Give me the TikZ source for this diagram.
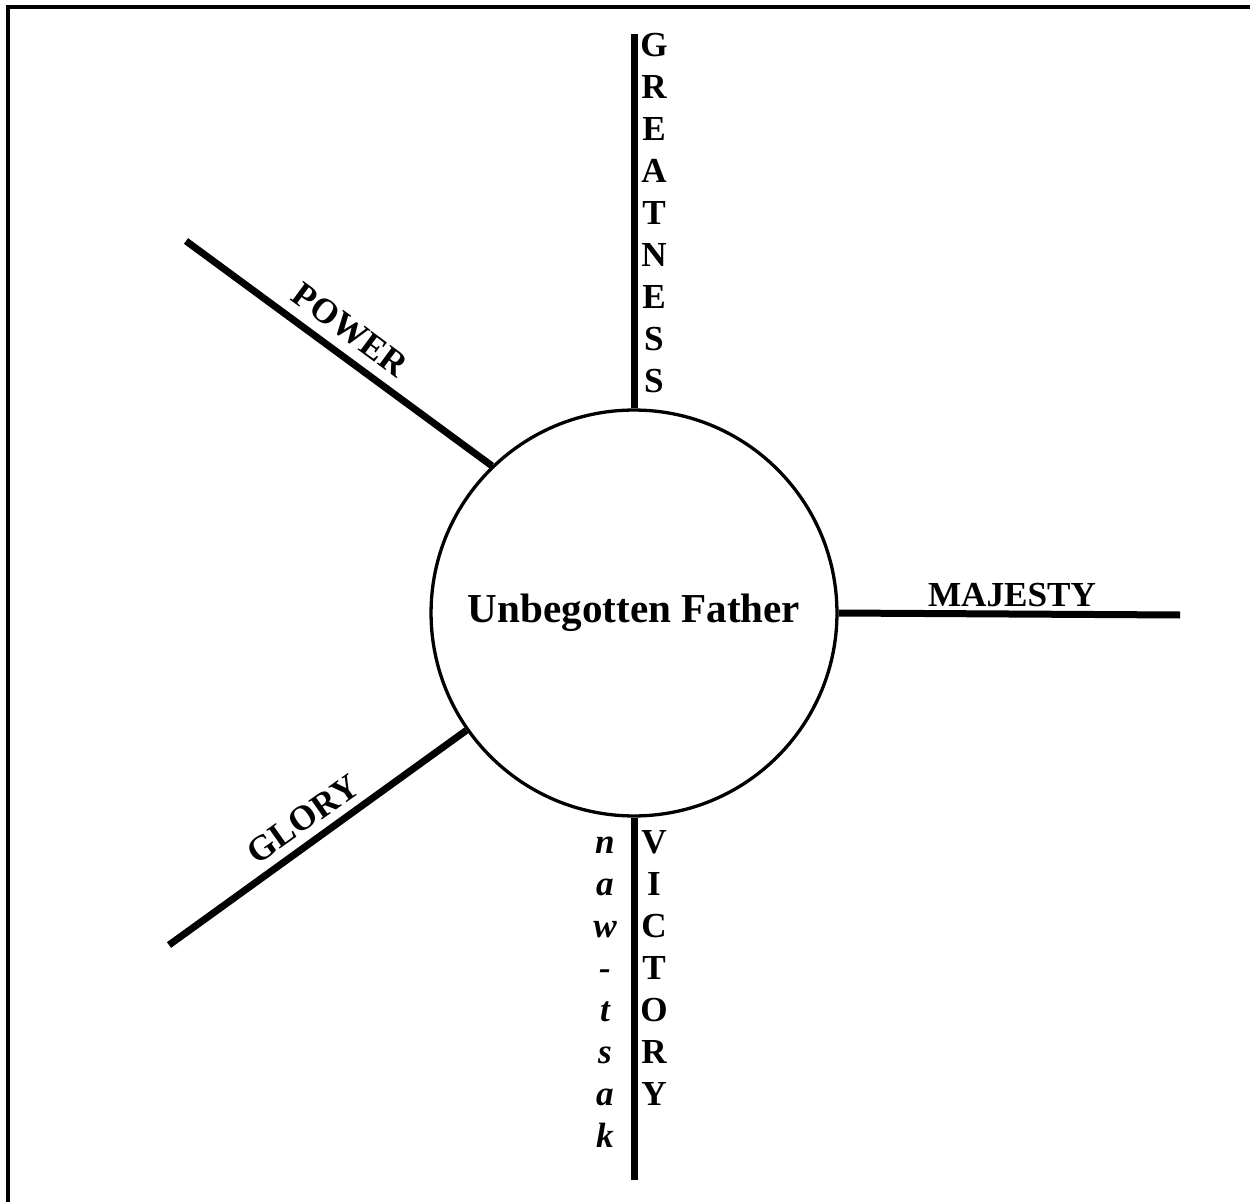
\documentclass[tikz,border=0pt]{standalone}
\usepackage{fontspec}
\setmainfont{Liberation Serif}
\begin{document}
\begin{tikzpicture}[x=0.02cm,y=-0.02cm,
  spoke/.style={line width=0.14cm},
  lbl/.style={font=\bfseries\fontsize{20}{22}\selectfont, inner sep=0pt},
  ilbl/.style={font=\bfseries\itshape\fontsize{20}{22}\selectfont, inner sep=0pt}]
\useasboundingbox (0,0) rectangle (1250,1202);
\fill[white] (0,0) rectangle (1250,1202);
\draw[line width=0.08cm] (8,1202) -- (8,7) -- (1250,7);
\node[circle, draw, line width=0.066cm, minimum size=8.12cm, inner sep=0pt] (father) at (634,613) {};
\node[font=\bfseries\fontsize{23.4}{26}\selectfont, anchor=base, inner sep=0pt] (title) at (634,622) {Unbegotten Father};
\coordinate (gtop) at (634,34);
\coordinate (vbot) at (634,1180);
\coordinate (mend) at (1180,615);
\coordinate (pend) at (186,241);
\coordinate (gend) at (169,945);
\draw[spoke] (father.north) -- (gtop);
\draw[spoke] (father.south) -- (vbot);
\draw[spoke] (father.east) -- (mend);
\draw[spoke] (father.134) -- (pend);
\draw[spoke] (father.215) -- (gend);
\foreach \l [count=\i from 0] in {G,R,E,A,T,N,E,S,S}
  \node[lbl, anchor=base] (g\i) at (654,{57+42*\i}) {\l};
\foreach \l [count=\i from 0] in {V,I,C,T,O,R,Y}
  \node[lbl, anchor=base] (v\i) at (654,{853+42*\i}) {\l};
\foreach \l [count=\i from 0] in {n,a,w,-,t,s,a,k}
  \node[ilbl, anchor=base] (k\i) at (605,{853+42*\i}) {\l};
\node[lbl, anchor=base] (majesty) at (1012,606) {MAJESTY};
\node[lbl, rotate=-36.4] (power) at (350,330) {POWER};
\node[lbl, rotate=35.3] (glory) at (303,819) {GLORY};
\end{tikzpicture}
\end{document}
